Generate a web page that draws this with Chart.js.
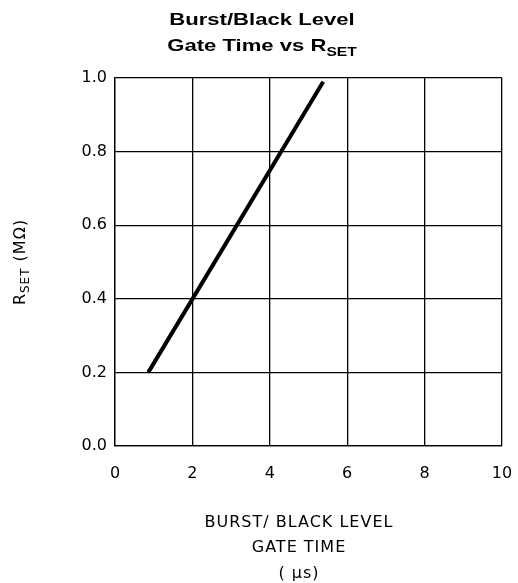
<!DOCTYPE html>
<html><head><meta charset="utf-8">
<script src="https://cdn.jsdelivr.net/npm/chart.js@4/dist/chart.umd.min.js"></script>
<style>html,body{margin:0;padding:0;background:#fff}#wrap{width:518px;height:583px;position:relative}</style>
</head><body><div id="wrap"><canvas id="c" width="518" height="583"></canvas></div>
<script>
const gateTimeUs = [0.86, 5.38];
const rsetMOhm = [0.2, 0.99];
const xTicks = [0, 2, 4, 6, 8, 10];
const yTicks = [0.0, 0.2, 0.4, 0.6, 0.8, 1.0];
const titleLines = ["Burst/Black Level", "Gate Time vs R", "SET"];
const xTitleLines = ["BURST/ BLACK LEVEL", "GATE TIME", "( \u03BCs)"];
const yTitleMain = "R", yTitleSub = "SET", yTitleRest = " (M\u03A9)";

const titlePlugin = {
  id: 'titles',
  afterDraw(chart) {
    const ctx = chart.ctx;
    const SX = 1.3;
    ctx.save();
    ctx.fillStyle = '#000';
    ctx.textBaseline = 'alphabetic';
    // main title, horizontally widened like the reference
    ctx.save();
    ctx.translate(262, 0);
    ctx.scale(SX, 1);
    ctx.font = "bold 17px 'Liberation Sans', Arial, sans-serif";
    ctx.textAlign = 'center';
    ctx.fillText(titleLines[0], 0, 25);
    const mainW = ctx.measureText(titleLines[1]).width;
    ctx.font = "bold 12px 'Liberation Sans', Arial, sans-serif";
    const subW = ctx.measureText(titleLines[2]).width;
    const x0 = -(mainW + subW) / 2;
    ctx.textAlign = 'left';
    ctx.font = "bold 17px 'Liberation Sans', Arial, sans-serif";
    ctx.fillText(titleLines[1], x0, 51);
    ctx.font = "bold 12px 'Liberation Sans', Arial, sans-serif";
    ctx.fillText(titleLines[2], x0 + mainW, 56);
    ctx.restore();
    // x axis title
    ctx.font = "16px 'DejaVu Sans', sans-serif";
    ctx.letterSpacing = '1px';
    ctx.textAlign = 'center';
    const cx = 299;
    ctx.fillText(xTitleLines[0], cx, 527);
    ctx.fillText(xTitleLines[1], cx, 552);
    ctx.fillText(xTitleLines[2], cx, 578);
    // y axis title rotated
    ctx.translate(25, 262);
    ctx.rotate(-Math.PI / 2);
    ctx.font = "16px 'DejaVu Sans', sans-serif";
    const wR = ctx.measureText(yTitleMain).width;
    const wRest = ctx.measureText(yTitleRest).width;
    ctx.font = "12px 'DejaVu Sans', sans-serif";
    const wS = ctx.measureText(yTitleSub).width;
    const start = -(wR + wS + wRest) / 2;
    ctx.textAlign = 'left';
    ctx.font = "16px 'DejaVu Sans', sans-serif";
    ctx.fillText(yTitleMain, start, 0);
    ctx.font = "12px 'DejaVu Sans', sans-serif";
    ctx.fillText(yTitleSub, start + wR, 4);
    ctx.font = "16px 'DejaVu Sans', sans-serif";
    ctx.fillText(yTitleRest, start + wR + wS, 0);
    ctx.restore();
  }
};

new Chart(document.getElementById('c'), {
  type: 'scatter',
  data: {
    datasets: [{
      data: gateTimeUs.map((x, i) => ({x: x, y: rsetMOhm[i]})),
      showLine: true,
      borderColor: '#000',
      borderWidth: 4,
      pointRadius: 0,
      borderCapStyle: 'butt'
    }]
  },
  options: {
    responsive: false,
    animation: false,
    devicePixelRatio: 1,
    layout: {padding: {left: 0, right: 16, top: 78, bottom: 0}},
    plugins: {legend: {display: false}, tooltip: {enabled: false}, title: {display: false}},
    scales: {
      x: {
        type: 'linear', min: 0, max: 10,
        afterBuildTicks: s => { s.ticks = xTicks.map(v => ({value: v})); },
        afterFit: s => { s.height = 137; s.paddingRight = 0; s.paddingLeft = 0; },
        grid: {color: '#000', lineWidth: 1.3, drawTicks: false},
        border: {color: '#000', width: 1.3},
        ticks: {color: '#000', padding: 18, font: {family: "'DejaVu Sans', sans-serif", size: 16}, maxRotation: 0,
          callback: v => String(v)}
      },
      y: {
        type: 'linear', min: 0, max: 1,
        afterBuildTicks: s => { s.ticks = yTicks.map(v => ({value: v})); },
        afterFit: s => { s.width = 115; s.paddingTop = 0; s.paddingBottom = 0; },
        grid: {color: '#000', lineWidth: 1.3, drawTicks: false},
        border: {color: '#000', width: 1.3},
        ticks: {color: '#000', padding: 8, font: {family: "'DejaVu Sans', sans-serif", size: 16},
          callback: v => Number(v).toFixed(1)}
      }
    }
  },
  plugins: [titlePlugin]
});
</script></body></html>
